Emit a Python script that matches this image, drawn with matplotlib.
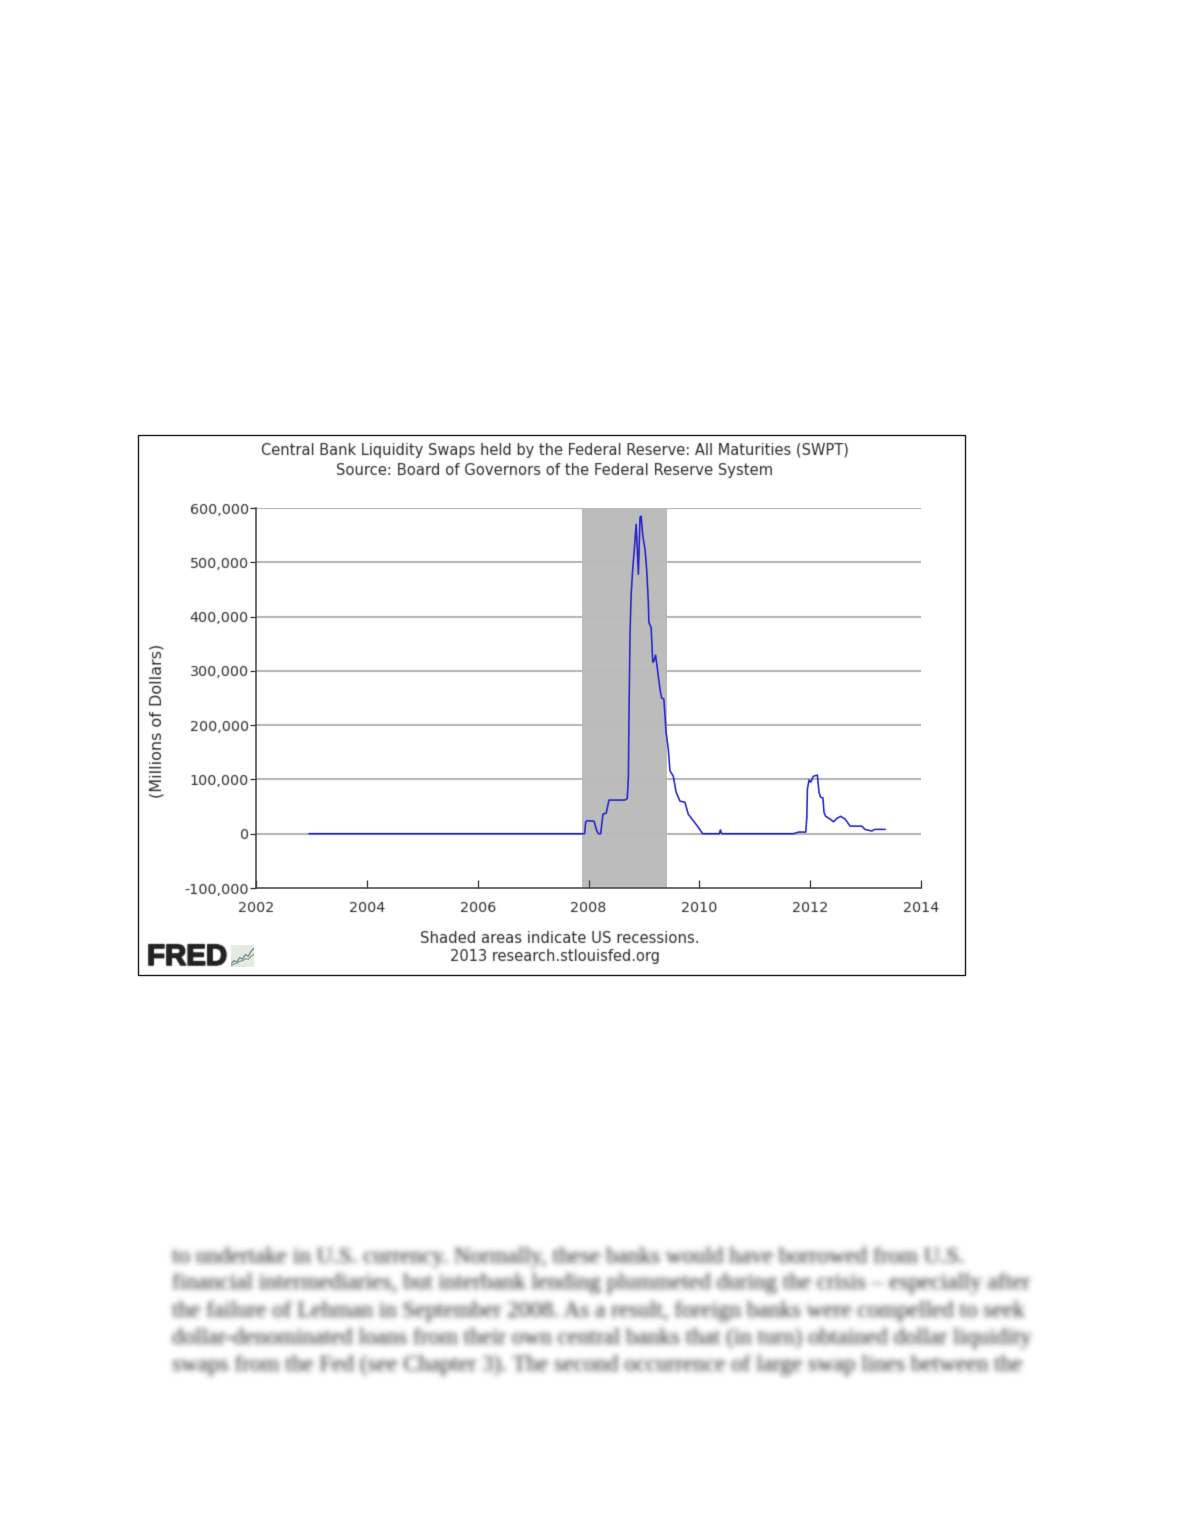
import matplotlib
matplotlib.use("Agg")
import matplotlib.pyplot as plt
import matplotlib.patheffects as pe
from matplotlib.colors import to_rgb
from matplotlib.patches import Rectangle
import numpy as np

W, H = 1180, 1527

dates = [2002.96, 2007.93, 2007.95, 2007.98, 2008.10, 2008.15, 2008.18, 2008.22, 2008.26, 2008.32,
         2008.37, 2008.66, 2008.70, 2008.72, 2008.73, 2008.75, 2008.77, 2008.80, 2008.82, 2008.86,
         2008.90, 2008.93, 2008.95, 2008.98, 2009.02, 2009.05, 2009.08, 2009.09, 2009.13, 2009.16,
         2009.18, 2009.21, 2009.24, 2009.29, 2009.32, 2009.36, 2009.40, 2009.44, 2009.47, 2009.53,
         2009.58, 2009.65, 2009.74, 2009.80, 2009.89, 2009.98, 2010.06, 2010.36, 2010.38, 2010.40,
         2010.42, 2011.70, 2011.79, 2011.92, 2011.94, 2011.95, 2011.98, 2012.01, 2012.06, 2012.13, 2012.16,
         2012.19, 2012.23, 2012.25, 2012.28, 2012.36, 2012.42, 2012.48, 2012.55, 2012.63, 2012.72,
         2012.93, 2012.99, 2013.11, 2013.17, 2013.35]
swaps = [0, 0, 22000, 24000, 23000, 5000, 0, 0, 36000, 38000,
         62000, 62000, 65000, 106000, 214000, 371000, 441000, 491000, 515000, 570000,
         478000, 583000, 585000, 548000, 524000, 487000, 426000, 389000, 380000, 316000,
         318000, 329000, 306000, 266000, 250000, 248000, 187000, 156000, 116000, 106000,
         77000, 60000, 58000, 36000, 24000, 12000, 0, 0, 7000, 1000,
         0, 0, 3000, 3000, 30000, 82000, 99000, 95000, 106000, 108000, 76000,
         67000, 66000, 39000, 32000, 27000, 22000, 28000, 32000, 27000, 14000,
         14000, 8000, 5000, 8000, 8000]

recession = [2007.88, 2009.42]
x_ticks = [2002, 2004, 2006, 2008, 2010, 2012, 2014]
y_ticks = [-100000, 0, 100000, 200000, 300000, 400000, 500000, 600000]
title_lines = ["Central Bank Liquidity Swaps held by the Federal Reserve: All Maturities (SWPT)",
               "Source: Board of Governors of the Federal Reserve System"]
ylabel = "(Millions of Dollars)"
foot_lines = ["Shaded areas indicate US recessions.", "2013 research.stlouisfed.org"]
body_lines = [
    "to undertake in U.S. currency. Normally, these banks would have borrowed from U.S.",
    "financial intermediaries, but interbank lending plummeted during the crisis \u2013 especially after",
    "the failure of Lehman in September 2008. As a result, foreign banks were compelled to seek",
    "dollar-denominated loans from their own central banks that (in turn) obtained dollar liquidity",
    "swaps from the Fed (see Chapter 3). The second occurrence of large swap lines between the",
]
icon_x = [0, 1, 2, 3, 4, 5, 6, 7, 8]
icon_y = [1, 2, 1.6, 3, 2.5, 4, 3.4, 5, 6]
icon_y2 = [0.4, 1, 1.2, 1.8, 2, 2.6, 2.5, 3.4, 4]

plt.rcParams["font.family"] = "DejaVu Sans"
fig = plt.figure(figsize=(W / 100, H / 100), dpi=100, facecolor="white")


def fx(px):
    return px / W


def fy(py):
    return 1 - py / H


def add_axes_px(left, top, right, bottom, **kw):
    return fig.add_axes([fx(left), fy(bottom), (right - left) / W, (bottom - top) / H], **kw)


def soften(colour, sigma):
    """Agg filter: gaussian-blur the alpha of an artist drawn in one colour."""
    rgb = to_rgb(colour)
    pad = int(np.ceil(3 * sigma))
    xs = np.arange(-pad, pad + 1)
    kernel = np.exp(-0.5 * (xs / sigma) ** 2)
    kernel /= kernel.sum()

    def _filter(image, dpi):
        alpha = np.pad(image[:, :, 3], pad)
        alpha = np.apply_along_axis(lambda r: np.convolve(r, kernel, mode="same"), 0, alpha)
        alpha = np.apply_along_axis(lambda r: np.convolve(r, kernel, mode="same"), 1, alpha)
        out = np.zeros(alpha.shape + (4,))
        out[:, :, 0], out[:, :, 1], out[:, :, 2] = rgb
        out[:, :, 3] = alpha
        return out, -pad, -pad

    return _filter


TEXT = "#2c2c2c"
CHART_SOFT = 0.55

fig.add_artist(Rectangle((fx(138), fy(975)), (965 - 138) / W, (975 - 435) / H,
                         transform=fig.transFigure, fill=False, ec="#1c1c1c", lw=1.0))

ax = add_axes_px(256, 508, 921, 888)
ax.set_xlim(2002, 2014)
ax.set_ylim(-100000, 600000)
ax.axvspan(recession[0], recession[1], color="#bcbcbc", lw=0, zorder=1)
ax.set_yticks(y_ticks)
ax.set_xticks(x_ticks)
ax.set_yticklabels([f"{v:,}" for v in y_ticks], fontsize=10.3, color=TEXT)
ax.set_xticklabels([str(v) for v in x_ticks], fontsize=10.3, color=TEXT)
for v in y_ticks[1:]:
    ax.axhline(v, color="#bababa", lw=1.6, zorder=2)
ax.tick_params(axis="y", direction="out", length=4.3, width=1, color="#444444", pad=1)
ax.tick_params(axis="x", direction="in", length=6, width=1, color="#444444", pad=9)
for side in ("top", "right"):
    ax.spines[side].set_visible(False)
for side in ("left", "bottom"):
    ax.spines[side].set_color("#444444")
    ax.spines[side].set_linewidth(1.1)
line, = ax.plot(dates, swaps, color="#2222cc", lw=1.15, zorder=3, solid_joinstyle="round")
line.set_agg_filter(soften("#2222cc", 0.45))
for lab in ax.get_xticklabels() + ax.get_yticklabels():
    lab.set_agg_filter(soften(TEXT, CHART_SOFT))

chart_texts = [
    fig.text(fx(554.5), fy(451), title_lines[0], ha="center", va="center", fontsize=10.57, color=TEXT),
    fig.text(fx(554.5), fy(471), title_lines[1], ha="center", va="center", fontsize=10.6, color=TEXT),
    fig.text(fx(157), fy(721), ylabel, ha="center", va="center", rotation=90, fontsize=11.5, color=TEXT),
    fig.text(fx(560), fy(938), foot_lines[0], ha="center", va="center", fontsize=10.75, color=TEXT),
    fig.text(fx(555.5), fy(957), foot_lines[1], ha="center", va="center", fontsize=10.5, color=TEXT),
]
for t in chart_texts:
    t.set_agg_filter(soften(TEXT, CHART_SOFT))

fred = fig.text(fx(147), fy(957), "FRED", ha="left", va="center", fontsize=21.2, fontweight="bold",
                color="#222222", family="Liberation Sans",
                path_effects=[pe.withStroke(linewidth=1.2, foreground="#222222")])
fred.set_agg_filter(soften("#222222", 0.6))

icon = add_axes_px(231, 945, 254, 967)
icon.set_xlim(0, 8)
icon.set_ylim(0, 7)
icon.set_facecolor("#e6ebe2")
icon.plot(icon_x, icon_y, color="#6f8fa8", lw=1.0)
icon.plot(icon_x, icon_y2, color="#8fa878", lw=1.0)
icon.set_xticks([])
icon.set_yticks([])
for s in icon.spines.values():
    s.set_visible(False)

for i, body in enumerate(body_lines):
    t = fig.text(fx(172), fy(1257 + 27 * i), body, ha="left", va="center", fontsize=16.67,
                 family="Liberation Serif", color="#222222")
    t.set_agg_filter(soften("#222222", 2.8))

fig.savefig("out.png", dpi=100, facecolor="white")
